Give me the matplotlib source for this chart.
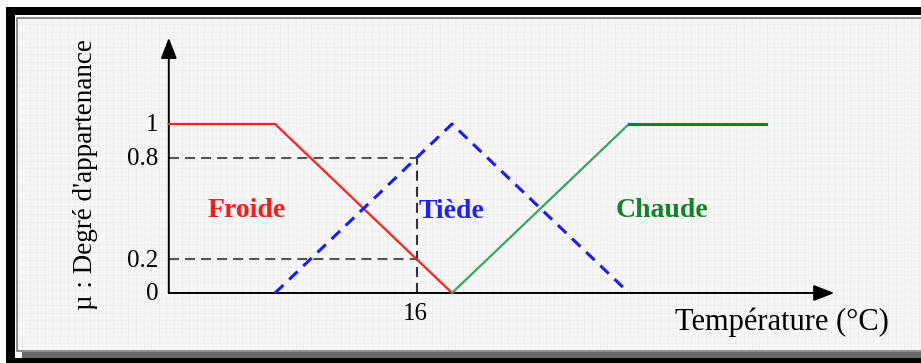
import numpy as np
import matplotlib
import matplotlib.pyplot as plt
from matplotlib.patches import Rectangle

matplotlib.use('Agg')

plt.rcParams['font.family'] = ['Liberation Serif', 'DejaVu Serif']

# membership functions (temperature in °C, degree of membership)
froide_t = [5.5, 10.0, 17.5]
froide_mu = [1, 1, 0]
tiede_t = [10.0, 17.5, 25.0]
tiede_mu = [0, 1, 0]
chaude_t = [17.5, 25.0, 30.8]
chaude_mu = [0, 1, 1]

t_sample = 16
y_ticks = [0, 0.2, 0.8, 1]
y_tick_labels = ['0', '0.2', '0.8', '1']

T_START, T_END = 5.5, 33.7
MU_TOP = 1.51

W, H = 921, 363
fig = plt.figure(figsize=(W / 100, H / 100), dpi=100)

# frame with drop shadow, in pixel coordinates
bg = fig.add_axes([0, 0, 1, 1])
bg.set_xlim(0, W)
bg.set_ylim(H, 0)
bg.axis('off')
bg.add_patch(Rectangle((6, 7), W + 20, H, color='black', lw=0))
bg.add_patch(Rectangle((15, 15), W + 20, 343, color='white', lw=0))
bg.add_patch(Rectangle((22, 352), W + 20, 6, color='#6a6a6a', lw=0))
bg.add_patch(Rectangle((17, 18), W + 20, 333, facecolor='#f6f6f6',
                       edgecolor='#7a7a7a', lw=1.2))
for gx in np.arange(22, W, 7.6):
    bg.plot([gx, gx], [20, 349], color='#ececec', lw=0.5, zorder=1)
for gy in np.arange(24, 349, 7.6):
    bg.plot([19, W], [gy, gy], color='#ececec', lw=0.5, zorder=1)

ax = fig.add_axes([0, 0, 1, 1])
ax.patch.set_alpha(0)
ax.axis('off')
ax.set_xlim(10 - 275 / 23.6, 10 + (W - 275) / 23.6)
ax.set_ylim((293 - H) / 169, 293 / 169)

# axes with arrow heads
arrow = dict(arrowstyle='-|>,head_length=0.9,head_width=0.35', color='black',
             lw=1.4, shrinkA=0, shrinkB=0, mutation_scale=14)
ax.annotate('', xy=(T_END, 0), xytext=(T_START, 0), arrowprops=arrow)
ax.annotate('', xy=(T_START, MU_TOP), xytext=(T_START, 0), arrowprops=arrow)

# fuzzification of the sample temperature
mu_f = np.interp(t_sample, froide_t, froide_mu)
mu_t = np.interp(t_sample, tiede_t, tiede_mu)
for level in (mu_f, mu_t):
    ax.plot([T_START, t_sample], [level, level], color='#555555', lw=1.5,
            dashes=(4.8, 2.9))
ax.plot([t_sample, t_sample], [0, max(mu_f, mu_t)], color='#333333', lw=1.5,
        dashes=(4.8, 2.9))

ax.plot(froide_t, froide_mu, color='#ff2020', lw=1.6, zorder=3)
ax.plot(tiede_t, tiede_mu, color='#1a1aff', lw=2.2, dashes=(3.8, 2.6), zorder=3)
ax.plot(chaude_t[:2], chaude_mu[:2], color='#3aa563', lw=1.6, zorder=3)
ax.plot(chaude_t[1:], chaude_mu[1:], color='#0a860a', lw=2.2, zorder=3)

for v, lab in zip(y_ticks, y_tick_labels):
    ax.annotate(lab, xy=(T_START, v), xytext=(-7.5, -1), textcoords='offset points',
                ha='right', va='center', fontsize=18)
ax.annotate(str(t_sample), xy=(t_sample, 0), xytext=(-1, -15),
            textcoords='offset points', ha='center', va='center', fontsize=18)

ax.text(8.8, 0.49, 'Froide', color='#ff1a1a', fontsize=20, fontweight='bold',
        ha='center', va='center')
ax.text(17.5, 0.48, 'Tiède', color='#2020ff', fontsize=20, fontweight='bold',
        ha='center', va='center')
ax.text(26.4, 0.49, 'Chaude', color='#13822a', fontsize=20, fontweight='bold',
        ha='center', va='center')

bg.text(85, 175, "µ : Degré d'appartenance", rotation=90, ha='center',
        va='center', fontsize=19.5)
bg.text(782, 322, 'Température (°C)', ha='center', va='center', fontsize=22)

fig.savefig('out.png', dpi=100)
